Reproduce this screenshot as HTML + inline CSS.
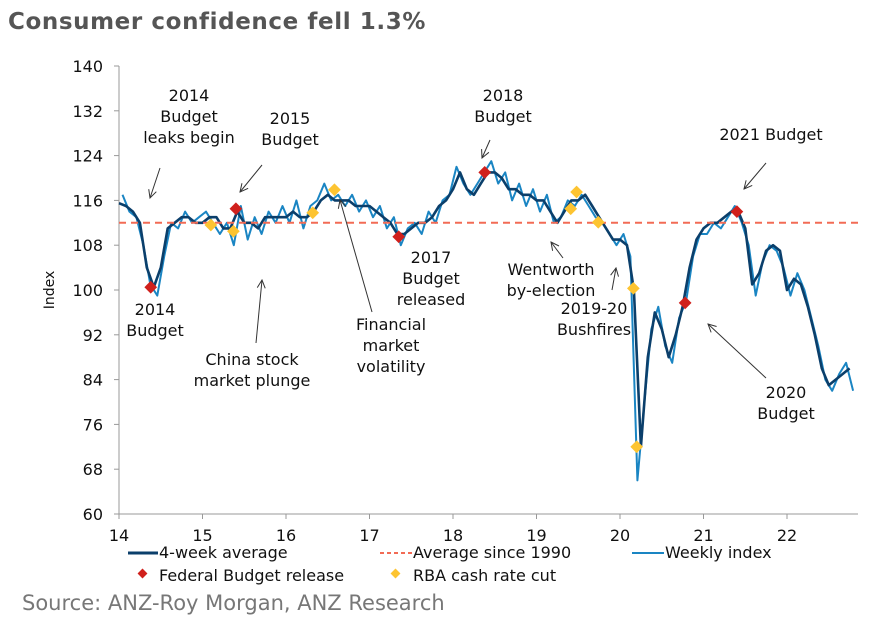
<!DOCTYPE html>
<html><head><meta charset="utf-8"><style>
body{margin:0;background:#fff;width:873px;height:625px;overflow:hidden;font-family:"DejaVu Sans","Liberation Sans",sans-serif}
svg text{font-family:"DejaVu Sans","Liberation Sans",sans-serif}
</style></head><body>
<svg id="chart" width="873" height="625" xmlns="http://www.w3.org/2000/svg">
<text x="8" y="29" font-size="23" font-weight="bold" fill="#555" letter-spacing="0.6">Consumer confidence fell 1.3%</text>
<g id="axes"></g>
<g id="series"></g>
<g id="annotations" font-size="16" fill="#111" text-anchor="middle"></g>
<g font-size="16" fill="#111">
<line x1="128" y1="553" x2="158" y2="553" stroke="#0b3f6b" stroke-width="3"/>
<text x="159" y="558">4-week average</text>
<line x1="380" y1="553" x2="412" y2="553" stroke="#f26b55" stroke-width="2" stroke-dasharray="4,3"/>
<text x="413" y="558">Average since 1990</text>
<line x1="632" y1="553" x2="664" y2="553" stroke="#1a85c3" stroke-width="2"/>
<text x="665" y="558">Weekly index</text>
<rect x="139" y="570" width="7" height="7" fill="#d0201c" transform="rotate(45 142.5 573.5)"/>
<text x="159" y="581">Federal Budget release</text>
<rect x="392" y="570" width="7" height="7" fill="#fdc431" transform="rotate(45 395.5 573.5)"/>
<text x="413" y="581">RBA cash rate cut</text>
</g>
<text x="22" y="610" font-size="21" fill="#777">Source: ANZ-Roy Morgan, ANZ Research</text>
</svg>
<script>
const avgValues=[115.5,115,114,112,104,100.5,104,111,112,113,113,112,
112,113,113,111,111,114,112,112,111,113,113,113,
113,114,113,113,114,116,117,116,116,116,115,115,
115,114,113,112,110,110,111,112,112,113,115,116,
118,121,118,117,119,121,121,120,118,118,117,117,
116,116,114,112,114,116,116,117,115,113,111,109,
109,108,100,72,88,96,93,88,92,97,104,109,
111,112,112,113,114,114,111,101,103,107,108,107,
100,102,101,97,92,86,83,84,85,86];
const weeklyValues=[117,114,113,108,101,99,106,112,111,114,112,113,
114,112,110,112,108,115,109,113,110,114,112,115,
112,116,111,115,116,119,116,117,115,117,114,116,
113,115,111,113,108,111,112,110,114,112,116,117,
122,119,117,119,121,123,119,121,116,119,115,118,
114,117,112,113,116,115,117,115,113,112,110,108,
110,106,66,80,93,97,90,87,95,98,106,110,
110,112,111,113,115,112,108,99,105,108,107,104,
99,103,100,95,90,84,82,85,87,82];
const longRunAverage=112;
const budgetX=[14.38,15.4,17.35,18.38,20.78,21.4];
const budgetY=[100.5,114.5,109.5,121,97.7,114];
const cutX=[15.1,15.37,16.32,16.58,19.41,19.48,19.74,20.16,20.2];
const cutY=[111.6,110.5,113.8,117.9,114.5,117.5,112.1,100.3,72];
const yTicks=[60,68,76,84,92,100,108,116,124,132,140];
const xTicks=[14,15,16,17,18,19,20,21,22];
const NS="http://www.w3.org/2000/svg";
const X=t=>119+(t-14)*83.5;
const Y=v=>514-(v-60)*5.6;
function mk(tag,attrs,parent){const e=document.createElementNS(NS,tag);for(const k in attrs)e.setAttribute(k,attrs[k]);parent.appendChild(e);return e;}
const axes=document.getElementById('axes'),series=document.getElementById('series'),ann=document.getElementById('annotations');
let l=mk('line',{x1:119,y1:66,x2:119,y2:514,stroke:'#999'},axes);


l=mk('line',{x1:119,y1:514,x2:858,y2:514,stroke:'#999'},axes);


yTicks.forEach(v=>{mk('line',{x1:114,y1:Y(v),x2:119,y2:Y(v),stroke:'#999'},axes);
const t=mk('text',{x:103,y:Y(v)+6,'font-size':16,'text-anchor':'end',fill:'#111'},axes);t.textContent=v;

});
xTicks.forEach(v=>{mk('line',{x1:X(v),y1:514,x2:X(v),y2:519,stroke:'#999'},axes);
const t=mk('text',{x:X(v),y:541,'font-size':16,'text-anchor':'middle',fill:'#111'},axes);t.textContent=v;

});
const yt=mk('text',{x:54,y:290,'font-size':14,'text-anchor':'middle',fill:'#111',transform:'rotate(-90 54 290)'},axes);yt.textContent='Index';


function path(vals,off,stroke,w,name){const d=vals.map((v,i)=>(i?'L':'M')+X(14+(i+off)/12).toFixed(1)+','+Y(v).toFixed(1)).join('');
const p=mk('path',{d:d,fill:'none',stroke:stroke,'stroke-width':w,'stroke-linejoin':'round'},series);

}
path(weeklyValues,0.5,'#1a85c3',2,'weekly-index-line');
path(avgValues,0,'#0b3f6b',2.6,'four-week-average-line');
const al=mk('line',{x1:119,y1:Y(longRunAverage),x2:858,y2:Y(longRunAverage),stroke:'#f26b55','stroke-width':2,'stroke-dasharray':'7,5'},series);


function dia(x,y,c,name){const r=mk('rect',{x:X(x)-4.5,y:Y(y)-4.5,width:9,height:9,fill:c,transform:`rotate(45 ${X(x)} ${Y(y)})`},series);

}
budgetX.forEach((x,i)=>dia(x,budgetY[i],'#d0201c','budget-marker'));
cutX.forEach((x,i)=>dia(x,cutY[i],'#fdc431','rate-cut-marker'));
const labels=[[189,101,['2014','Budget','leaks begin'],160,168,150,198],[290,124,['2015','Budget'],262,165,240,192],
[155,315,['2014','Budget'],0,0,0,0],[252,365,['China stock','market plunge'],256,343,262,280],
[391,330,['Financial','market','volatility'],372,312,340,200],[431,263,['2017','Budget','released'],0,0,0,0],
[503,101,['2018','Budget'],490,140,482,158],[551,275,['Wentworth','by-election'],563,258,551,242],
[594,314,['2019-20','Bushfires'],612,290,616,268],[771,140,['2021 Budget'],766,163,744,189],
[786,398,['2020','Budget'],766,378,708,324]];
labels.forEach(a=>{const g=mk('g',{},ann);


a[2].forEach((s,i)=>{const t=mk('text',{x:a[0],y:a[1]+i*21},g);t.textContent=s;});
if(a[3])mk('line',{x1:a[3],y1:a[4],x2:a[5],y2:a[6],stroke:'#333','stroke-width':1,'marker-end':'url(#arr)'},g);});
const defs=mk('defs',{},document.getElementById('chart'));
const m=mk('marker',{id:'arr',markerWidth:10,markerHeight:10,refX:9,refY:5,orient:'auto',markerUnits:'userSpaceOnUse'},defs);
mk('path',{d:'M1,1 L9,5 L1,9',fill:'none',stroke:'#333'},m);
</script>
</body></html>
